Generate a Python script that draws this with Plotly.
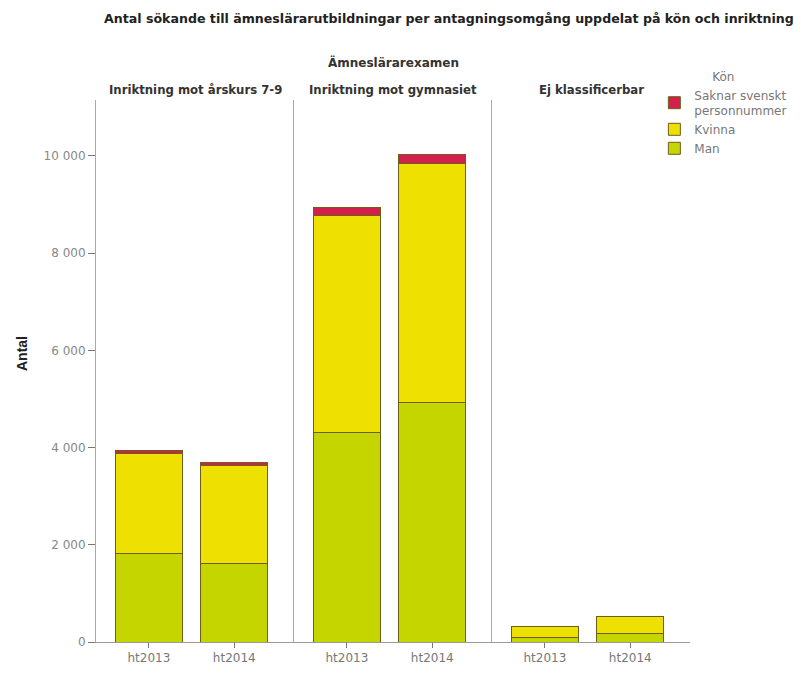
import plotly.graph_objects as go
from plotly.subplots import make_subplots

categories = ["ht2013", "ht2014"]
panels = ["Inriktning mot årskurs 7-9", "Inriktning mot gymnasiet", "Ej klassificerbar"]
man = [[1830, 1625], [4300, 4920], [100, 185]]
kvinna = [[2040, 2015], [4465, 4915], [210, 330]]
saknar = [[60, 60], [165, 185], [5, 8]]
ytick_vals = [0, 2000, 4000, 6000, 8000, 10000]
ytick_text = ["0", "2 000", "4 000", "6 000", "8 000", "10 000"]

series = [("Man", man, "#c5d500"), ("Kvinna", kvinna, "#eee000"), ("Saknar svenskt<br>personnummer", saknar, "#d21f4b")]

FONT = "DejaVu Sans"
L, T, W, H = 88, 92, 594, 542  # plot area in figure px

fig = make_subplots(rows=1, cols=3, shared_yaxes=True, horizontal_spacing=0)
for p in range(3):
    for name, vals, col in series:
        fig.add_trace(go.Bar(x=categories, y=vals[p], name=name, marker_color=col,
                             marker_line=dict(color="#6e5e1c", width=1), width=0.78,
                             showlegend=(p == 0), legendgroup=name),
                      row=1, col=p + 1)

fig.update_layout(barmode="stack", width=801, height=675,
                  margin=dict(l=L, r=801 - L - W, t=T, b=675 - T - H, autoexpand=False),
                  plot_bgcolor="white", paper_bgcolor="white",
                  font=dict(family=FONT, color="#555"),
                  legend=dict(x=0.94, y=1 + (T - 57) / H, xanchor="left", yanchor="top",
                              traceorder="reversed", font=dict(size=12, color="#777", family=FONT),
                              title=dict(text="Kön", side="top center", font=dict(size=12, color="#777", family=FONT)),
                              itemwidth=30, tracegroupgap=0, bgcolor="rgba(0,0,0,0)"))

doms = [[0, 198 / 594], [198 / 594, 396 / 594], [396 / 594, 1]]
for i in range(3):
    ax = "xaxis" if i == 0 else f"xaxis{i+1}"
    fig.layout[ax].update(domain=doms[i], range=[-0.62, 1.70], showline=True, linecolor="#999",
                          linewidth=1, ticks="outside", ticklen=5, tickcolor="#777",
                          tickfont=dict(size=12, color="#777", family=FONT), showgrid=False)
    yax = "yaxis" if i == 0 else f"yaxis{i+1}"
    fig.layout[yax].update(range=[0, 11150], showline=True, linecolor="#aaa", linewidth=1,
                           showgrid=False, zeroline=False)

fig.layout.yaxis.update(tickvals=ytick_vals, ticktext=ytick_text, ticks="outside", ticklen=7,
                        tickcolor="#777", tickfont=dict(size=12, color="#888", family=FONT))

def px_x(x):
    return (x - L) / W

def px_y(y):
    return 1 + (T - y) / H

anns = []
for i, t in enumerate(panels):
    anns.append(dict(text=f"<b>{t}</b>", x=(doms[i][0] + doms[i][1]) / 2, y=px_y(82), xref="paper", yref="paper",
                     xanchor="center", yanchor="middle", showarrow=False,
                     font=dict(size=11.7, color="#333", family=FONT)))
anns.append(dict(text="<b>Ämneslärarexamen</b>", x=0.5, y=px_y(54), xref="paper", yref="paper",
                 xanchor="center", yanchor="middle", showarrow=False,
                 font=dict(size=12, color="#333", family=FONT)))
anns.append(dict(text="<b>Antal sökande till ämneslärarutbildningar per antagningsomgång uppdelat på kön och inriktning</b>",
                 x=px_x(441), y=px_y(10), xref="paper", yref="paper", xanchor="center", yanchor="middle",
                 showarrow=False, font=dict(size=12.6, color="#222", family=FONT)))
anns.append(dict(text="<b>Antal</b>", x=px_x(14), y=px_y(346), xref="paper", yref="paper",
                 xanchor="center", yanchor="middle", textangle=-90, showarrow=False,
                 font=dict(size=14, color="#222", family="Liberation Sans")))
fig.update_layout(annotations=anns)

fig.write_html("out.html")
